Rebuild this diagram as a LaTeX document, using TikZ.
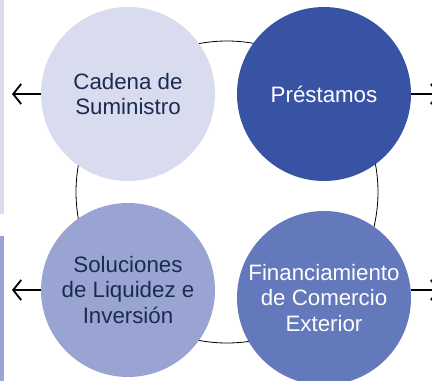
\documentclass[tikz,border=0pt]{standalone}
\usepackage{fontspec}
\setmainfont{Liberation Sans}
\usetikzlibrary{arrows.meta}

\definecolor{lilac}{HTML}{D9DCEF}
\definecolor{royal}{HTML}{3853A4}
\definecolor{periwinkle}{HTML}{9AA4D2}
\definecolor{cornflower}{HTML}{6478BC}
\definecolor{navy}{HTML}{1A2B50}

\begin{document}
\begin{tikzpicture}[x=1pt,y=-1pt]
        \tikzstyle{bubble} = [circle, minimum size=174pt, inner sep=0pt, align=center,
            font=\fontsize{22.3}{25.5}\selectfont]
        \tikzstyle{link} = [line width=1.8pt, -{Straight Barb[length=8pt,width=20pt]}]
        \useasboundingbox (0,0) rectangle (432,381);
        % side bars
        \fill[lilac] (0,0) rectangle (4,214);
        \fill[periwinkle] (0,236) rectangle (4,381);
        \node[draw, circle, minimum size=302pt, line width=0.8pt] (ring) at (227,192) {};
        \node[bubble, fill=lilac, text=navy] (cadena) at (128,94) {Cadena de\\Suministro};
        \node[bubble, fill=royal, text=white] (prestamos) at (324,94) {Préstamos};
        \node[bubble, fill=periwinkle, text=navy] (liquidez) at (128,290) {Soluciones\\de Liquidez e\\Inversión};
        \node[bubble, fill=cornflower, text=white] (comercio) at (324,298) {Financiamiento\\de Comercio\\Exterior};
        \coordinate (w1) at (12,94);
        \coordinate (w2) at (12,290);
        \coordinate (e1) at (440,94);
        \coordinate (e2) at (440,290);
        \foreach \from/\to in {cadena/w1, liquidez/w2, prestamos/e1}
            \draw[link] (\from) -- (\to);
        \draw[link] (comercio.east |- e2) -- (e2);
    \end{tikzpicture}
\end{document}
